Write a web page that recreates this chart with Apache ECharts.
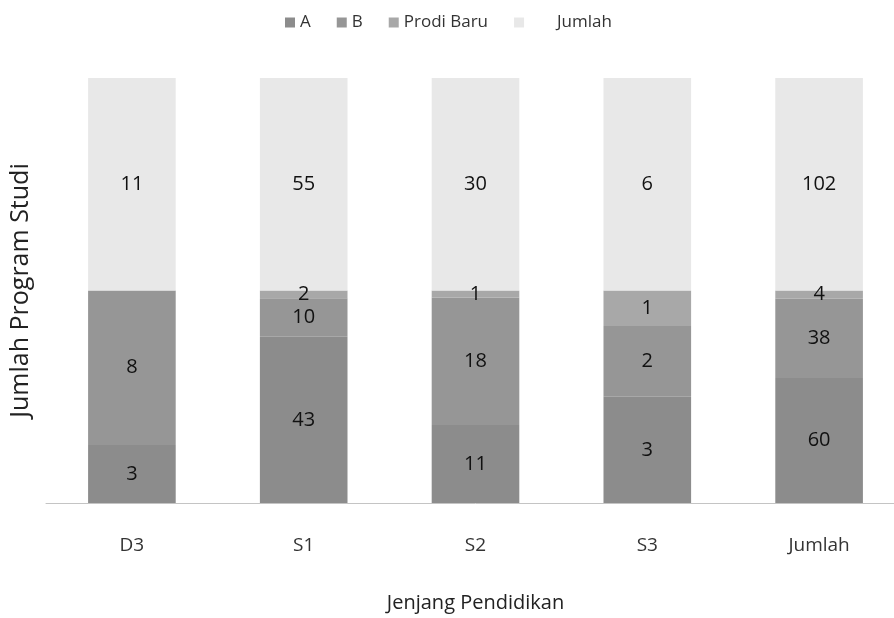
<!DOCTYPE html>
<html>
<head>
<meta charset="utf-8">
<script src="https://cdn.jsdelivr.net/npm/echarts@6/dist/echarts.min.js"></script>
<style>html,body{margin:0;padding:0;background:#fff;overflow:hidden}#c{width:910px;height:618px}</style>
</head>
<body>
<div id="c"></div>
<script>
const categories = ['D3', 'S1', 'S2', 'S3', 'Jumlah'];
const valuesA = [3, 43, 11, 3, 60];
const valuesB = [8, 10, 18, 2, 38];
const valuesProdiBaru = [0, 2, 1, 1, 4];
const valuesJumlah = [11, 55, 30, 6, 102];
const seriesNames = ['A', 'B', 'Prodi Baru', 'Jumlah'];

const raw = [valuesA, valuesB, valuesProdiBaru, valuesJumlah];
const totals = categories.map((_, i) => raw.reduce((s, arr) => s + arr[i], 0));
const colors = ['#8c8c8c', '#969696', '#a8a8a8', '#e8e8e8'];
const FONT = '"Open Sans", sans-serif';

const chart = echarts.init(document.getElementById('c'));
chart.setOption({
  animation: false,
  textStyle: { fontFamily: FONT },
  legend: {
    top: 9, left: 280,
    itemWidth: 10, itemHeight: 10, itemGap: 26,
    textStyle: { fontSize: 17, color: '#333', fontFamily: FONT },
    data: seriesNames.map(n => n === 'Jumlah'
      ? { name: n, icon: 'rect', textStyle: { padding: [0, 0, 0, 28] } }
      : { name: n, icon: 'rect' })
  },
  grid: { left: 37, width: 868, top: 78, bottom: 100 },
  xAxis: {
    type: 'category', data: categories,
    name: 'Jenjang Pendidikan', nameLocation: 'middle', nameGap: 90,
    nameTextStyle: { fontSize: 20, color: '#222', fontFamily: FONT },
    axisLine: { lineStyle: { color: '#c4c4c4', width: 1 } },
    axisTick: { show: false },
    axisLabel: { fontSize: 19, color: '#333', margin: 33, fontFamily: FONT }
  },
  yAxis: {
    type: 'value', min: 0, max: 100,
    name: 'Jumlah Program Studi', nameLocation: 'middle', nameGap: 13,
    nameTextStyle: { fontSize: 25, color: '#222', fontFamily: FONT },
    axisLine: { show: false }, axisTick: { show: false },
    axisLabel: { show: false }, splitLine: { show: false }
  },
  series: seriesNames.map((n, k) => ({
    name: n, type: 'bar', stack: 'total', barWidth: '51%',
    itemStyle: { color: colors[k] },
    label: {
      show: true, position: 'inside', fontSize: 20, color: '#111', fontFamily: FONT,
      formatter: p => raw[k][p.dataIndex] === 0 ? '' : String(raw[k][p.dataIndex])
    },
    data: categories.map((_, i) => raw[k][i] / totals[i] * 100)
  }))
});
</script>
</body>
</html>
